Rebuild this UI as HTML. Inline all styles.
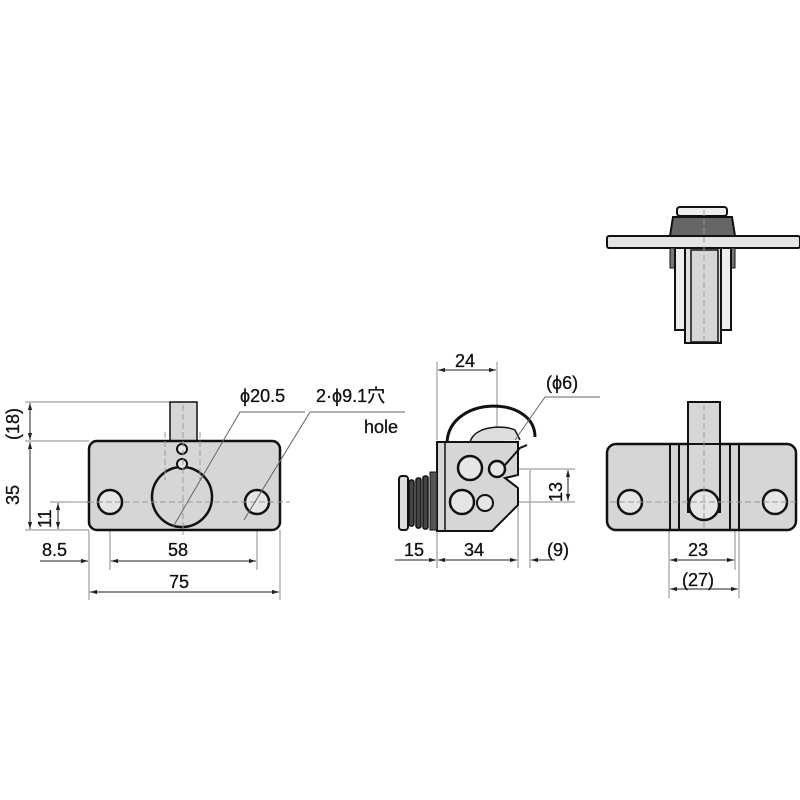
<!DOCTYPE html>
<html><head><meta charset="utf-8"><style>
html,body{margin:0;padding:0;background:#fff;}
svg{display:block;}
text{font-family:"Liberation Sans","Noto Sans CJK JP",sans-serif;fill:#111;stroke:#111;stroke-width:0.3;}
</style></head><body>
<svg width="800" height="800" viewBox="0 0 800 800" xmlns="http://www.w3.org/2000/svg">
<defs>
<marker id="a" viewBox="0 0 10 10" refX="10" refY="5" markerWidth="7" markerHeight="7" orient="auto-start-reverse"><path d="M0,2 L10,5 L0,8 z" fill="#222"/></marker>
</defs>
<g stroke="#888" stroke-width="1" fill="none">
<line x1="25" y1="402" x2="170" y2="402"/>
<line x1="25" y1="441" x2="89" y2="441"/>
<line x1="25" y1="530" x2="89" y2="530"/>
<line x1="50" y1="502" x2="100" y2="502"/>
<line x1="89" y1="530" x2="89" y2="600"/>
<line x1="280" y1="530" x2="280" y2="600"/>
<line x1="110" y1="515" x2="110" y2="570"/>
<line x1="257" y1="515" x2="257" y2="570"/>
<line x1="437" y1="362" x2="437" y2="440"/>
<line x1="497" y1="362" x2="497" y2="440"/>
<line x1="437" y1="530" x2="437" y2="568"/>
<line x1="518" y1="505" x2="518" y2="568"/>
<line x1="530" y1="470" x2="530" y2="568"/>
<line x1="515" y1="469" x2="575" y2="469"/>
<line x1="505" y1="502" x2="575" y2="502"/>
<line x1="669" y1="530" x2="669" y2="598"/>
<line x1="735" y1="530" x2="735" y2="570"/>
<line x1="739" y1="530" x2="739" y2="598"/>
</g>
<g stroke="#222" stroke-width="1" fill="none" marker-start="url(#a)" marker-end="url(#a)">
<line x1="30" y1="403" x2="30" y2="440"/>
<line x1="30" y1="442" x2="30" y2="529"/>
<line x1="58" y1="503" x2="58" y2="529"/>
<line x1="111" y1="561" x2="256" y2="561"/>
<line x1="90" y1="592" x2="279" y2="592"/>
<line x1="438" y1="370" x2="496" y2="370"/>
<line x1="568" y1="470" x2="568" y2="501"/>
<line x1="670" y1="560" x2="734" y2="560"/>
<line x1="670" y1="589" x2="738" y2="589"/>
</g>
<g stroke="#222" stroke-width="1" fill="none">
<line x1="40" y1="561" x2="88" y2="561" marker-end="url(#a)"/>
<line x1="395" y1="560" x2="436" y2="560" marker-end="url(#a)"/>
<line x1="438" y1="560" x2="517" y2="560" marker-start="url(#a)" marker-end="url(#a)"/>
<line x1="555" y1="560" x2="531" y2="560" marker-end="url(#a)"/>
</g>
<!-- front view -->
<g stroke="#111" stroke-width="2.5">
<rect x="170" y="402" width="27" height="40" fill="#d6d6d6" stroke-width="1.5"/>
<rect x="89" y="441" width="191" height="89" rx="8" fill="#d6d6d6"/>
<circle cx="182" cy="497" r="30" fill="#d6d6d6"/>
<circle cx="110" cy="502" r="12" fill="#e6e6e6"/>
<circle cx="257" cy="502" r="12" fill="#e6e6e6"/>
<circle cx="182" cy="449" r="5" fill="#e6e6e6" stroke-width="2"/>
<circle cx="182" cy="464" r="5" fill="#e6e6e6" stroke-width="2"/>
</g>
<g stroke="#999" stroke-width="1" stroke-dasharray="6,3" fill="none">
<line x1="70" y1="502" x2="290" y2="502"/>
<line x1="183" y1="405" x2="183" y2="535"/>
<line x1="165" y1="432" x2="165" y2="480"/>
<line x1="200" y1="432" x2="200" y2="480"/>
</g>
<!-- side view -->
<g stroke="#111" stroke-width="2.5">
<path d="M447,442 C450,395 535,395 535,437" fill="none" stroke-width="3"/>
<path d="M470,442 C475,425 505,425 515,430 L520,440" fill="#ddd" stroke-width="1.5"/>
<path d="M437,442 L518,442 L518,475 L505,478 L518,488 L518,505 L492,531 L437,531 Z" fill="#d6d6d6" stroke-width="2"/>
<line x1="445" y1="442" x2="445" y2="531" stroke-width="1.5"/>
<rect x="399" y="476" width="9" height="54" rx="3" fill="#ddd" stroke-width="2"/>
<rect x="409" y="480" width="5" height="46" rx="2" fill="#444" stroke-width="1.5"/>
<rect x="416" y="478" width="5" height="50" rx="2" fill="#444" stroke-width="1.5"/>
<rect x="423" y="476" width="5" height="53" rx="2" fill="#444" stroke-width="1.5"/>
<rect x="430" y="472" width="7" height="58" fill="#555" stroke-width="1"/>
<circle cx="470" cy="468" r="12" fill="#e6e6e6"/>
<circle cx="497" cy="469" r="8" fill="#e6e6e6"/>
<circle cx="462" cy="502" r="12" fill="#e6e6e6"/>
<circle cx="485" cy="503" r="8" fill="#e6e6e6" stroke-width="2"/>
<path d="M505,465 L520,448 L527,445" fill="none" stroke-width="2"/>
</g>
<!-- right top view -->
<g stroke="#111" stroke-width="2">
<rect x="677" y="207" width="50" height="9" rx="3" fill="#eee"/>
<path d="M673,217 L732,217 L735,236 L670,236 Z" fill="#666"/>
<rect x="607" y="236" width="193" height="12" rx="2" fill="#e4e4e4"/>
<rect x="670" y="248" width="65" height="20" fill="#777" stroke-width="1"/>
<rect x="675" y="248" width="10" height="82" fill="#eee"/>
<rect x="721" y="248" width="10" height="82" fill="#eee"/>
<rect x="685" y="248" width="36" height="95" fill="#e0e0e0"/>
<rect x="691" y="250" width="27" height="92" fill="#d6d6d6" stroke-width="1.5"/>
</g>
<!-- right bottom view -->
<g stroke="#111" stroke-width="2.5">
<rect x="607" y="444" width="189" height="86" rx="9" fill="#d6d6d6"/>
<rect x="688" y="402" width="32" height="110" fill="#d6d6d6" stroke-width="2"/>
<rect x="679" y="444" width="51" height="86" fill="none" stroke-width="2"/>
<line x1="670" y1="444" x2="670" y2="530" stroke-width="2"/>
<line x1="739" y1="444" x2="739" y2="530" stroke-width="2"/>
<circle cx="704" cy="505" r="15" fill="#e6e6e6"/>
<circle cx="630" cy="502" r="12" fill="#e6e6e6"/>
<circle cx="775" cy="502" r="12" fill="#e6e6e6"/>
</g>
<g stroke="#999" stroke-width="1" stroke-dasharray="6,3" fill="none">
<line x1="610" y1="502" x2="796" y2="502"/>
<line x1="704" y1="210" x2="704" y2="340"/>
<line x1="704" y1="405" x2="704" y2="530"/>
</g>
<!-- leaders on top -->
<g stroke="#666" stroke-width="1" fill="none">
<polyline points="305,412 240,412 173,527"/>
<polyline points="405,412 310,412 244,520"/>
<polyline points="600,397 545,397 515,440"/>
</g>
<!-- text -->
<g font-size="18">
<text x="240" y="402">ϕ20.5</text>
<text x="316" y="402">2·ϕ9.1穴</text>
<text x="364" y="433">hole</text>
<text x="42" y="556">8.5</text>
<text x="168" y="556">58</text>
<text x="169" y="588">75</text>
<text x="455" y="367">24</text>
<text x="546" y="389">(ϕ6)</text>
<text x="404" y="556">15</text>
<text x="464" y="556">34</text>
<text x="547" y="556">(9)</text>
<text x="688" y="556">23</text>
<text x="682" y="586">(27)</text>
<text transform="translate(19,440) rotate(-90)">(18)</text>
<text transform="translate(19,505) rotate(-90)">35</text>
<text transform="translate(51,528) rotate(-90)">11</text>
<text transform="translate(562,502) rotate(-90)">13</text>
</g>
</svg>
</body></html>
